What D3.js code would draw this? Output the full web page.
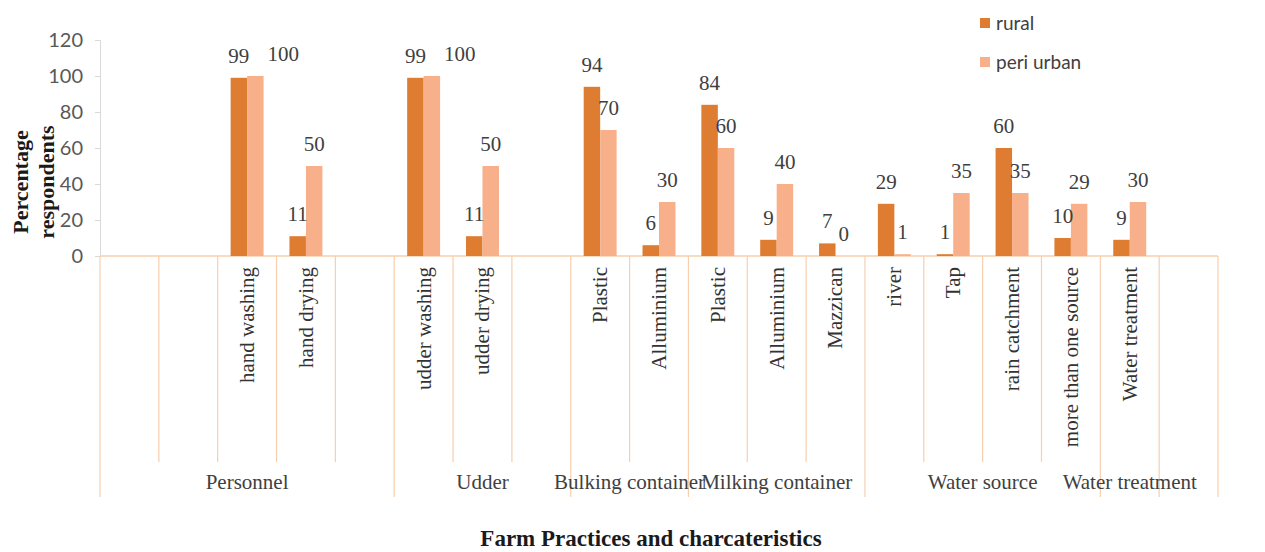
<!DOCTYPE html>
<html>
<head>
<meta charset="utf-8">
<script src="https://cdn.jsdelivr.net/npm/d3@7"></script>
<style>
  html, body { margin: 0; padding: 0; background: #ffffff; }
  svg { display: block; }
</style>
</head>
<body>
<svg id="chart" width="1265" height="552"></svg>
<script>
// Farm practices: share of rural vs peri-urban respondents per practice
const categories = ["", "", "hand washing", "hand drying", "", "udder washing", "udder drying", "",
  "Plastic", "Alluminium", "Plastic", "Alluminium", "Mazzican",
  "river", "Tap", "rain catchment", "more than one source", "Water treatment", ""];
const categoryGroups = ["Personnel", "Personnel", "Personnel", "Personnel", "Personnel",
  "Udder", "Udder", "Udder",
  "Bulking container", "Bulking container",
  "Milking container", "Milking container", "Milking container",
  "Water source", "Water source", "Water source", "Water source",
  "Water treatment", ""];
const rural =     [null, null, 99, 11, null, 99, 11, null, 94, 6, 84, 9, 7, 29, 1, 60, 10, 9, null];
const periUrban = [null, null, 100, 50, null, 100, 50, null, 70, 30, 60, 40, 0, 1, 35, 35, 29, 30, null];
const seriesNames = ["rural", "peri urban"];
const yTicks = [0, 20, 40, 60, 80, 100, 120];

const colors = { "rural": "#de7c31", "peri urban": "#f7b08a" };
const gridColor = "#f7cfae";
const serif = "'Liberation Serif', 'Times New Roman', serif";
const sans = "Lato, 'Open Sans', sans-serif";

const svg = d3.select("#chart");
const plotLeft = 100, plotRight = 1218, plotTop = 40, plotBottom = 256;

const x0 = d3.scaleBand().domain(d3.range(categories.length)).range([plotLeft, plotRight]).padding(0);
const bw = x0.bandwidth();
const x1 = d3.scaleBand().domain(seriesNames).range([bw * 0.22, bw * 0.78]).padding(0);
const y = d3.scaleLinear().domain([0, 120]).range([plotBottom, plotTop]);

// y axis
const yAxis = svg.append("g")
  .attr("transform", `translate(${plotLeft},0)`)
  .call(d3.axisLeft(y).tickValues(yTicks).tickSize(5).tickPadding(12));
yAxis.select(".domain").attr("stroke", "#d9d9d9");
yAxis.selectAll(".tick line").attr("stroke", "#d9d9d9");
yAxis.selectAll(".tick text")
  .attr("font-family", sans).attr("font-size", 20).attr("fill", "#595959");

// y axis title (two lines)
const yTitle = svg.append("text")
  .attr("transform", "translate(20,182) rotate(-90)")
  .attr("font-family", serif).attr("font-weight", "bold").attr("font-size", 22)
  .attr("fill", "#1a1a1a").attr("text-anchor", "middle");
yTitle.append("tspan").attr("x", 0).attr("dy", "0.35em").text("Percentage");
yTitle.append("tspan").attr("x", 0).attr("dy", "1.2em").text("respondents");

// category separators; group boundaries reach further down
const boundaries = d3.range(categories.length + 1);
const isGroupEdge = i => i === 0 || i === categories.length || categoryGroups[i] !== categoryGroups[i - 1];
svg.append("g").selectAll("line").data(boundaries).join("line")
  .attr("x1", i => i < categories.length ? x0(i) : plotRight)
  .attr("x2", i => i < categories.length ? x0(i) : plotRight)
  .attr("y1", plotBottom)
  .attr("y2", i => isGroupEdge(i) ? 497 : 462)
  .attr("stroke", gridColor).attr("stroke-width", 1.2);

// baseline
svg.append("line")
  .attr("x1", plotLeft).attr("x2", plotRight).attr("y1", y(0)).attr("y2", y(0))
  .attr("stroke", gridColor).attr("stroke-width", 1.5);

// bars
const rows = categories.map((c, i) => ({ i, values: { "rural": rural[i], "peri urban": periUrban[i] } }));
const barData = rows.flatMap(r => seriesNames
  .filter(s => r.values[s] !== null)
  .map(s => ({ i: r.i, s, v: r.values[s] })));

svg.append("g").selectAll("rect").data(barData).join("rect")
  .attr("x", d => x0(d.i) + x1(d.s))
  .attr("y", d => y(d.v))
  .attr("width", x1.bandwidth())
  .attr("height", d => y(0) - y(d.v))
  .attr("fill", d => colors[d.s]);

// value labels (full-height labels pushed aside so they clear the neighbouring bar)
const labelShift = v => v >= 100 ? 28 : 0;
svg.append("g").selectAll("text").data(barData).join("text")
  .attr("x", d => x0(d.i) + x1(d.s) + x1.bandwidth() / 2 + labelShift(d.v))
  .attr("y", d => y(d.v) - 15)
  .attr("text-anchor", "middle")
  .attr("font-family", serif).attr("font-size", 21).attr("fill", "#404040")
  .text(d => d.v);

// rotated category labels
svg.append("g").selectAll("text").data(categories.map((c, i) => ({ c, i })).filter(d => d.c)).join("text")
  .attr("transform", d => `translate(${x0(d.i) + bw / 2},267) rotate(-90)`)
  .attr("text-anchor", "end").attr("dy", "0.33em")
  .attr("font-family", serif).attr("font-size", 21).attr("fill", "#333333")
  .text(d => d.c);

// group labels centred under their span
const groupSpans = [];
categoryGroups.forEach((g, i) => {
  const last = groupSpans[groupSpans.length - 1];
  if (last && last.g === g) last.end = i; else groupSpans.push({ g, start: i, end: i });
});
svg.append("g").selectAll("text").data(groupSpans.filter(d => d.g)).join("text")
  .attr("x", d => (x0(d.start) + x0(d.end) + bw) / 2)
  .attr("y", 489)
  .attr("text-anchor", "middle")
  .attr("font-family", serif).attr("font-size", 21).attr("fill", "#404040")
  .text(d => d.g);

// x axis title
svg.append("text")
  .attr("x", 651).attr("y", 546)
  .attr("text-anchor", "middle")
  .attr("font-family", serif).attr("font-weight", "bold").attr("font-size", 23)
  .attr("fill", "#1a1a1a")
  .text("Farm Practices and charcateristics");

// legend
const legend = svg.append("g").selectAll("g").data(seriesNames).join("g")
  .attr("transform", (d, k) => `translate(980,${23 + k * 39})`);
legend.append("rect").attr("x", 0).attr("y", -5).attr("width", 10).attr("height", 10)
  .attr("fill", d => colors[d]);
legend.append("text").attr("x", 16).attr("dy", "0.35em")
  .attr("font-family", sans).attr("font-size", 19).attr("fill", "#404040")
  .text(d => d);
</script>
</body>
</html>
